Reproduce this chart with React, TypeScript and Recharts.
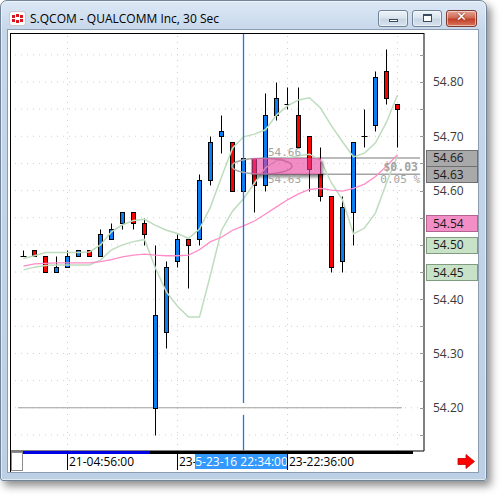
import React from "react";
import {
  ComposedChart,
  Bar,
  Line,
  XAxis,
  YAxis,
  ReferenceLine,
  ReferenceArea,
  ReferenceDot,
} from "recharts";

// 30 sec bars, S.QCOM
const times = [
  "21-04:54:00", "21-04:54:30", "21-04:55:00", "21-04:55:30", "21-04:56:00", "21-04:56:30",
  "21-04:57:00", "21-04:57:30", "21-04:58:00", "21-04:58:30", "21-04:59:00", "21-04:59:30",
  "23-22:30:00", "23-22:30:30", "23-22:31:00", "23-22:31:30", "23-22:32:00", "23-22:32:30",
  "23-22:33:00", "23-22:33:30", "23-22:34:00", "23-22:34:30", "23-22:35:00", "23-22:35:30",
  "23-22:36:00", "23-22:36:30", "23-22:37:00", "23-22:37:30", "23-22:38:00", "23-22:38:30",
  "23-22:39:00", "23-22:39:30", "23-22:40:00", "23-22:40:30", "23-22:41:00",
];

const open = [
  54.48, 54.49, 54.48, 54.45, 54.46, 54.48, 54.49, 54.48, 54.51, 54.54, 54.56, 54.54,
  54.20, 54.34, 54.47, 54.51, 54.51, 54.62, 54.70, 54.69, 54.60, 54.66, 54.61, 54.74,
  54.76, 54.74, 54.70, 54.63, 54.59, 54.47, 54.56, 54.70, 54.72, 54.82, 54.76,
];
const high = [
  54.49, 54.49, 54.48, 54.48, 54.49, 54.49, 54.49, 54.53, 54.54, 54.56, 54.56, 54.55,
  54.50, 54.47, 54.52, 54.51, 54.63, 54.70, 54.74, 54.69, 54.72, 54.66, 54.78, 54.80,
  54.79, 54.79, 54.70, 54.68, 54.59, 54.59, 54.69, 54.75, 54.82, 54.86, 54.76,
];
const low = [
  54.48, 54.48, 54.45, 54.45, 54.46, 54.48, 54.48, 54.48, 54.51, 54.53, 54.53, 54.50,
  54.15, 54.31, 54.46, 54.42, 54.50, 54.61, 54.67, 54.60, 54.58, 54.56, 54.60, 54.73,
  54.75, 54.68, 54.60, 54.58, 54.45, 54.45, 54.50, 54.68, 54.71, 54.76, 54.68,
];
const close = [
  54.48, 54.48, 54.45, 54.46, 54.48, 54.49, 54.48, 54.52, 54.53, 54.56, 54.54, 54.52,
  54.37, 54.46, 54.51, 54.50, 54.62, 54.69, 54.71, 54.60, 54.66, 54.61, 54.74, 54.77,
  54.76, 54.68, 54.64, 54.59, 54.46, 54.57, 54.69, 54.70, 54.81, 54.77, 54.75,
];

const bandUpper = [
  54.475, 54.48, 54.486, 54.486, 54.486, 54.486, 54.487, 54.5, 54.524, 54.537, 54.545, 54.547,
  54.536, 54.527, 54.521, 54.512, 54.529, 54.57, 54.625, 54.678, 54.699, 54.704, 54.712, 54.739,
  54.756, 54.767, 54.771, 54.752, 54.719, 54.69, 54.662, 54.669, 54.688, 54.726, 54.776,
];
const bandLower = [
  54.454, 54.459, 54.462, 54.463, 54.463, 54.463, 54.463, 54.472, 54.491, 54.5, 54.506, 54.51,
  54.457, 54.413, 54.387, 54.367, 54.367, 54.445, 54.527, 54.562, 54.585, 54.614, 54.642, 54.655,
  54.66, 54.664, 54.667, 54.656, 54.614, 54.583, 54.52, 54.531, 54.559, 54.614, 54.664,
];
const average = [
  54.461, 54.465, 54.466, 54.467, 54.467, 54.467, 54.467, 54.469, 54.473, 54.478, 54.481, 54.483,
  54.481, 54.48, 54.48, 54.481, 54.491, 54.506, 54.514, 54.527, 54.535, 54.544, 54.557, 54.57,
  54.583, 54.594, 54.602, 54.604, 54.601, 54.599, 54.604, 54.612, 54.626, 54.645, 54.666,
];

const priceTicks = [54.2, 54.3, 54.4, 54.6, 54.7, 54.8];
const gridLevels = [
  54.15, 54.2, 54.25, 54.3, 54.35, 54.4, 54.45, 54.5, 54.55, 54.6, 54.65, 54.7, 54.75, 54.8, 54.85,
];
const flagValues = [54.66, 54.63, 54.54, 54.5, 54.45];
const timeTicks = [4, 14, 24];
const gridTimes = [4, 14, 24, 34];

const cursorIndex = 20;
const cursorDate = "5-23-16";
const crossPrice = 54.2;
const measureLevels = [54.66, 54.63];
const measureSpan = [20.68, 27.05];

const data = times.map((t, i) => ({
  i,
  time: t,
  open: open[i],
  high: high[i],
  low: low[i],
  close: close[i],
  range: [low[i], high[i]],
  upper: bandUpper[i],
  lower: bandLower[i],
  avg: average[i],
}));

const FONT = "'Open Sans', 'Noto Sans', sans-serif";
const MONO = "'DejaVu Sans Mono', monospace";
const X_DOMAIN: [number, number] = [-1.2273, 36.4091];
const Y_DOMAIN: [number, number] = [54.1204, 54.8902];

const flagStyles = [
  { fill: "#a9a9a9", stroke: "#707070" },
  { fill: "#a9a9a9", stroke: "#707070" },
  { fill: "#f38fc6", stroke: "#b3638f" },
  { fill: "#c8e2c8", stroke: "#7f9c7f" },
  { fill: "#c8e2c8", stroke: "#7f9c7f" },
];

function Candle(props: any) {
  const { x, y, width, height, payload } = props;
  const { open: o, close: c, high: h, low: l } = payload;
  const k = height / (h - l);
  const yOf = (v: number) => y + (h - v) * k;
  const cx = Math.round(x + width / 2 - 0.5) + 0.5;
  const top = Math.round(yOf(Math.max(o, c))) + 0.5;
  const bot = Math.round(yOf(Math.min(o, c))) + 0.5;
  const wickTop = Math.round(y) + 0.5;
  const wickBot = Math.round(y + height) + 0.5;
  const doji = Math.abs(o - c) < 0.001;
  const fill = c > o ? "#0a7cf4" : "#ff0000";
  return (
    <g>
      <line x1={cx} x2={cx} y1={wickTop} y2={wickBot} stroke="#000" />
      {doji ? (
        <line x1={cx - 3} x2={cx + 3} y1={top} y2={top} stroke="#000" />
      ) : (
        <rect x={cx - 2} y={top} width={4} height={bot - top} fill={fill} stroke="#000" />
      )}
    </g>
  );
}

function CursorSegment(props: any) {
  const { x1, y1, x2, y2 } = props;
  return <line x1={x1} x2={x2} y1={y1} y2={y2} stroke="#1a7ae8" strokeWidth={1.3} />;
}

function PriceTick(props: any) {
  const { x, y, index, payload } = props;
  const v = payload.value;
  const py = Math.round(y) + 0.5;
  if (index >= gridLevels.length) {
    const f = flagStyles[index - gridLevels.length];
    return (
      <g>
        <rect x={x - 6.5} y={py - 8} width={51} height={16} fill={f.fill} stroke={f.stroke} />
        <text x={x} y={y + 4.5} fill="#1a1a1a" fontSize={12} fontFamily={FONT}>
          {v.toFixed(2)}
        </text>
      </g>
    );
  }
  const labeled = priceTicks.some((t) => Math.abs(t - v) < 1e-6);
  return (
    <g>
      <line x1={x - 13} x2={x - 9} y1={py} y2={py} stroke="#9a9a9a" />
      {labeled && (
        <text x={x} y={y + 4.5} fill="#3a3a3a" fontSize={12} fontFamily={FONT}>
          {v.toFixed(2)}
        </text>
      )}
    </g>
  );
}

function TimeTick(props: any) {
  const { x, y, payload } = props;
  const i = payload.value;
  const px = Math.round(x - 0.5) + 0.5;
  if (i === cursorIndex) {
    return (
      <g>
        <rect x={px - 48.5} y={y + 2} width={93} height={16} fill="#3399ff" />
        <text x={px - 2} y={y + 15} textAnchor="middle" fill="#fff" fontSize={12} fontFamily={FONT}>
          {cursorDate + " " + times[i].slice(3)}
        </text>
      </g>
    );
  }
  // the label under the cursor box is cut at the box edge, as in the platform
  const clip = i < cursorIndex && i + 10 > cursorIndex;
  return (
    <g>
      <line x1={px} x2={px} y1={y + 2} y2={y + 19} stroke="#000" />
      <text x={px + 1.5} y={y + 15} fill="#000" fontSize={12} fontFamily={FONT}>
        {clip ? times[i].slice(0, 3) : times[i]}
      </text>
    </g>
  );
}

function MeasureBox(props: any) {
  const { x, y, width, height } = props;
  const [hi, lo] = measureLevels;
  const diff = hi - lo;
  return (
    <g>
      <defs>
        <filter id="mshadow" x="-20%" y="-80%" width="140%" height="260%">
          <feGaussianBlur stdDeviation="1.5" />
        </filter>
        <mask id="mhole" maskUnits="userSpaceOnUse" x={x - 20} y={y - 20} width={width + 40} height={height + 40}>
          <rect x={x - 20} y={y - 20} width={width + 40} height={height + 40} fill="#fff" />
          <rect x={x} y={y} width={width} height={height} fill="#000" />
        </mask>
      </defs>
      <g mask="url(#mhole)">
        <rect x={x + 2} y={y + 3} width={width} height={height} fill="#000" opacity={0.45} filter="url(#mshadow)" />
      </g>
      <rect x={x} y={y} width={width} height={height} fill="#e8409c" fillOpacity={0.6} />
      <text x={x + 17} y={y - 2} fill="#a4a4a4" fontSize={11} fontFamily={MONO}>
        {hi.toFixed(2)}
      </text>
      <text x={x + 17} y={y + height + 9} fill="#a4a4a4" fontSize={11} fontFamily={MONO}>
        {lo.toFixed(2)}
      </text>
      <text x={x + width + 97} y={y + 13} textAnchor="end" fill="#a4a4a4" fontSize={11.5} fontWeight="bold" fontFamily={MONO}>
        {"$" + diff.toFixed(2)}
      </text>
      <text x={x + width + 99} y={y + height + 9} textAnchor="end" fill="#a4a4a4" fontSize={11} fontFamily={MONO}>
        {((diff / lo) * 100).toFixed(2) + " %"}
      </text>
    </g>
  );
}

function MeasureEllipse(props: any) {
  const { cx, cy } = props;
  return <ellipse cx={cx} cy={cy} rx={30} ry={8} fill="none" stroke="#a8a8a8" strokeWidth={1.5} />;
}

function TitleButton({ left, width, red, children }: any) {
  return (
    <div
      style={{
        position: "absolute",
        left,
        top: 10,
        width,
        height: 17,
        boxSizing: "border-box",
        border: red ? "1px solid #7d3a30" : "1px solid #6f8296",
        borderRadius: 3,
        background: red
          ? "linear-gradient(#e9a596, #d06a55 45%, #c1402a 55%, #d8765d)"
          : "linear-gradient(#eef3f9, #dae4ef 45%, #c8d5e4 55%, #d7e2ee)",
        boxShadow: "inset 0 0 0 1px rgba(255,255,255,0.5)",
      }}
    >
      {children}
    </div>
  );
}

export default function App() {
  const cursorTop = 54.209;
  const cursorBottom = 54.187;
  return (
    <div style={{ position: "absolute", left: 0, top: 0, width: 504, height: 499, overflow: "hidden", background: "#fff" }}>
      {/* window frame */}
      <div
        style={{
          position: "absolute",
          left: 0,
          top: 0,
          width: 487,
          height: 481,
          boxSizing: "border-box",
          border: "1px solid #72849a",
          borderRadius: "7px 7px 3px 3px",
          background: "linear-gradient(#dce8f5, #c6d7ea 30px, #bccfe4)",
          boxShadow: "4px 5px 9px rgba(0,0,0,0.45), inset 0 0 0 1px rgba(255,255,255,0.55)",
        }}
      />
      <div
        style={{
          position: "absolute",
          left: 10,
          top: 12,
          width: 15,
          height: 13,
          background: "#fff",
          borderRadius: 2,
          boxShadow: "0 0 0 1px #c9c9c9",
        }}
      >
        {[[2, 3], [6, 2], [10, 3], [2, 7], [6, 8], [10, 7]].map(([l, t], k) => (
          <div key={k} style={{ position: "absolute", left: l, top: t, width: 3, height: 3, background: "#d9161c" }} />
        ))}
      </div>
      <div style={{ position: "absolute", left: 30, top: 10, fontFamily: FONT, fontSize: 12, lineHeight: "17px", color: "#000", whiteSpace: "nowrap" }}>
        S.QCOM - QUALCOMM Inc, 30 Sec
      </div>
      <TitleButton left={378} width={30}>
        <div style={{ position: "absolute", left: 10, top: 8, width: 9, height: 3, background: "#fff", border: "1px solid #3b4a5c", boxSizing: "border-box" }} />
      </TitleButton>
      <TitleButton left={412} width={30}>
        <div style={{ position: "absolute", left: 10, top: 3, width: 9, height: 8, background: "#fff", borderStyle: "solid", borderColor: "#3b4a5c", borderWidth: "2px 1px 1px 1px", boxSizing: "border-box" }} />
      </TitleButton>
      <TitleButton left={446} width={31} red>
        <div style={{ position: "absolute", left: 0, top: -2, width: 29, textAlign: "center", color: "#fff", fontFamily: "'DejaVu Sans', sans-serif", fontWeight: "bold", fontSize: 13, textShadow: "0 0 2px #6b1d10" }}>
          ✕
        </div>
      </TitleButton>
      {/* client area */}
      <div style={{ position: "absolute", left: 7, top: 29, width: 472, height: 444, boxSizing: "border-box", border: "1px solid #8c9db2", background: "#fff" }} />

      <div style={{ position: "absolute", left: 0, top: 0 }}>
        <ComposedChart width={504} height={499} data={data} margin={{ top: 33, right: 0, bottom: 28, left: 10 }}>
          <XAxis
            dataKey="i"
            type="number"
            domain={X_DOMAIN}
            allowDataOverflow
            ticks={[...timeTicks.slice(0, 2), cursorIndex, ...timeTicks.slice(2)]}
            interval={0}
            height={20}
            tickSize={0}
            tickMargin={0}
            tickLine={false}
            axisLine={{ stroke: "#000" }}
            tick={<TimeTick />}
          />
          <YAxis
            orientation="right"
            type="number"
            domain={Y_DOMAIN}
            allowDataOverflow
            ticks={[...gridLevels, ...flagValues]}
            interval={0}
            width={80}
            tickSize={0}
            tickMargin={9}
            tickLine={false}
            axisLine={{ stroke: "#000" }}
            tick={<PriceTick />}
          />

          {gridLevels.map((v) => (
            <ReferenceLine key={"h" + v} y={v} stroke="#cfcfcf" strokeDasharray="1 5" zIndex={50} />
          ))}
          {gridTimes.map((t) => (
            <ReferenceLine key={"v" + t} x={t} stroke="#cfcfcf" strokeDasharray="1 5" zIndex={50} />
          ))}
          <ReferenceLine
            segment={[{ x: -0.5, y: crossPrice }, { x: 34.41, y: crossPrice }]}
            stroke="#a0a0a0"
            zIndex={50}
          />
          {measureLevels.map((v) => (
            <ReferenceLine
              key={"m" + v}
              segment={[{ x: 21.68, y: v }, { x: 36.05, y: v }]}
              stroke="#a4a4a4"
              strokeWidth={1.5}
              zIndex={50}
            />
          ))}

          <Line dataKey="upper" stroke="#bedcbe" strokeWidth={1.5} dot={false} activeDot={false} isAnimationActive={false} />
          <Line dataKey="lower" stroke="#bedcbe" strokeWidth={1.5} dot={false} activeDot={false} isAnimationActive={false} />
          <Line dataKey="avg" stroke="#ff8cc8" strokeWidth={1.3} dot={false} activeDot={false} isAnimationActive={false} />
          <Bar dataKey="range" barSize={5} shape={(p: any) => <Candle {...p} />} isAnimationActive={false} />

          <ReferenceLine
            segment={[{ x: cursorIndex, y: Y_DOMAIN[1] }, { x: cursorIndex, y: cursorTop }]}
            shape={(p: any) => <CursorSegment {...p} />}
            zIndex={900}
          />
          <ReferenceLine
            segment={[{ x: cursorIndex, y: cursorBottom }, { x: cursorIndex, y: Y_DOMAIN[0] }]}
            shape={(p: any) => <CursorSegment {...p} />}
            zIndex={900}
          />
          <ReferenceDot
            x={21.68}
            y={(measureLevels[0] + measureLevels[1]) / 2}
            shape={(p: any) => <MeasureEllipse {...p} />}
            zIndex={950}
          />
          <ReferenceArea
            x1={measureSpan[0]}
            x2={measureSpan[1]}
            y1={measureLevels[1]}
            y2={measureLevels[0]}
            shape={(p: any) => <MeasureBox {...p} />}
            zIndex={1000}
          />
        </ComposedChart>
      </div>

      {/* plot frame pieces, scroll bar, corner box, arrow */}
      <div style={{ position: "absolute", left: 10, top: 33, width: 414, height: 1, background: "#000" }} />
      <div style={{ position: "absolute", left: 10, top: 33, width: 1, height: 439, background: "#000" }} />
      <div style={{ position: "absolute", left: 23, top: 451, width: 390, height: 3, background: "#000" }} />
      <div style={{ position: "absolute", left: 23, top: 451, width: 127, height: 3, background: "#0000e6" }} />
      <div style={{ position: "absolute", left: 11, top: 452, width: 12, height: 19, boxSizing: "border-box", border: "1px solid #8c8c8c", background: "#fff" }} />
      <svg style={{ position: "absolute", left: 456, top: 453 }} width={22} height={17}>
        <polygon points="2,5.5 10,5.5 10,1.5 18.5,8.5 10,15.5 10,11.5 2,11.5" fill="#ff0000" stroke="#c00000" strokeWidth={0.8} />
      </svg>
    </div>
  );
}
